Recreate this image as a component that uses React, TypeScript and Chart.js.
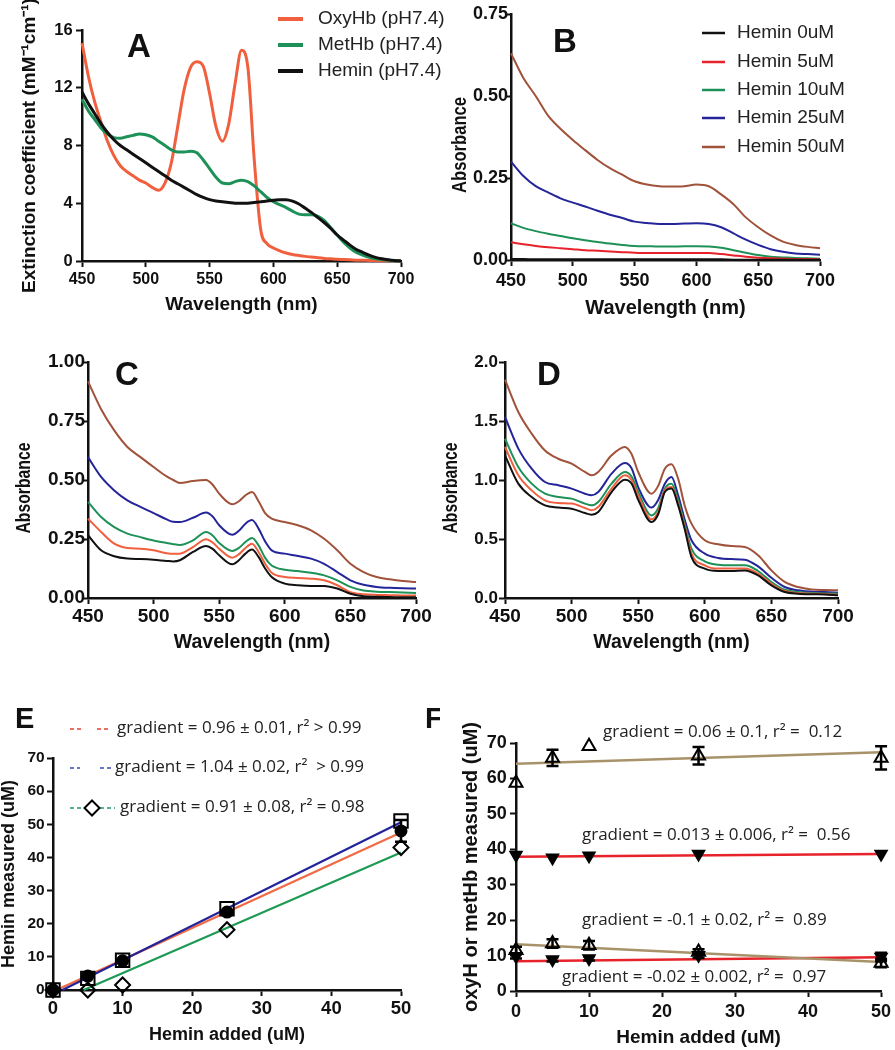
import React, { useEffect, useRef } from "react";
import { Chart, registerables } from "chart.js";
Chart.register(...registerables);

const SANS = '"Liberation Sans", Arial, sans-serif';
const ANNOT = '"Open Sans", "Liberation Sans", sans-serif';
const INK = "#111111";

// ---------- colours ----------
const C_ORANGE = "#F0603F";
const C_GREEN = "#1E9158";
const C_BLACK = "#111111";
const C_RED = "#E8222A";
const C_BLUE = "#25259A";
const C_BROWN = "#A0523A";
const C_TAN = "#A8926A";

// ---------- Panel A ----------
const waveA = [450, 455, 460, 465, 470, 475, 480, 485, 490, 495, 500, 505, 510, 515, 520, 525, 530, 535, 540, 545, 550, 555, 560, 565, 570, 575, 580, 585, 590, 595, 600, 605, 610, 615, 620, 625, 630, 635, 640, 645, 650, 655, 660, 665, 670, 675, 680, 685, 690, 695, 700];
const oxyHbA = [15.1, 12.8, 11.0, 9.6, 8.3, 7.3, 6.6, 6.2, 5.9, 5.6, 5.4, 5.1, 4.9, 5.4, 6.8, 9.3, 11.85, 13.4, 13.8, 13.5, 11.6, 9.3, 8.3, 9.5, 12.3, 14.6, 13.4, 7.0, 2.2, 1.2, 0.9, 0.7, 0.55, 0.45, 0.38, 0.32, 0.27, 0.22, 0.18, 0.15, 0.12, 0.1, 0.08, 0.06, 0.05, 0.04, 0.03, 0.02, 0.01, 0.01, 0];
const metHbA = [11.2, 10.4, 9.8, 9.2, 8.8, 8.55, 8.5, 8.6, 8.7, 8.8, 8.75, 8.6, 8.3, 8.0, 7.7, 7.55, 7.55, 7.6, 7.5, 7.0, 6.4, 5.8, 5.4, 5.35, 5.5, 5.6, 5.5, 5.2, 4.8, 4.4, 4.1, 3.9, 3.7, 3.45, 3.25, 3.2, 3.2, 3.1, 2.8, 2.3, 1.8, 1.3, 0.9, 0.6, 0.4, 0.25, 0.15, 0.1, 0.05, 0.02, 0];
const heminA = [11.7, 10.9, 10.2, 9.5, 8.9, 8.4, 8.0, 7.7, 7.4, 7.1, 6.8, 6.5, 6.2, 5.9, 5.6, 5.35, 5.1, 4.85, 4.6, 4.4, 4.25, 4.15, 4.1, 4.05, 4.0, 4.0, 4.0, 4.05, 4.1, 4.15, 4.2, 4.25, 4.25, 4.15, 3.95, 3.65, 3.35, 3.0, 2.65, 2.25, 1.8, 1.45, 1.1, 0.8, 0.6, 0.4, 0.25, 0.15, 0.08, 0.03, 0];
const legendA = ["OxyHb (pH7.4)", "MetHb (pH7.4)", "Hemin (pH7.4)"];

// ---------- Panel B ----------
const waveB = [450, 460, 470, 480, 490, 500, 510, 520, 530, 540, 550, 560, 570, 580, 590, 600, 610, 620, 630, 640, 650, 660, 670, 680, 690, 700];
const hemin0B = [0.003, 0.003, 0.002, 0.002, 0.002, 0.002, 0.002, 0.002, 0.002, 0.002, 0.002, 0.002, 0.002, 0.002, 0.002, 0.002, 0.002, 0.002, 0.001, 0.001, 0.001, 0.001, 0.001, 0.001, 0.001, 0.001];
const hemin5B = [0.054, 0.048, 0.043, 0.039, 0.036, 0.033, 0.03, 0.028, 0.026, 0.024, 0.022, 0.021, 0.021, 0.021, 0.021, 0.021, 0.021, 0.018, 0.014, 0.01, 0.007, 0.005, 0.004, 0.003, 0.003, 0.002];
const hemin10B = [0.112, 0.098, 0.088, 0.08, 0.073, 0.066, 0.06, 0.055, 0.05, 0.046, 0.043, 0.042, 0.041, 0.041, 0.042, 0.042, 0.041, 0.037, 0.03, 0.022, 0.015, 0.01, 0.008, 0.006, 0.005, 0.004];
const hemin25B = [0.30, 0.256, 0.225, 0.206, 0.188, 0.175, 0.163, 0.15, 0.138, 0.128, 0.117, 0.113, 0.11, 0.11, 0.111, 0.112, 0.11, 0.10, 0.081, 0.062, 0.046, 0.033, 0.025, 0.02, 0.018, 0.016];
const hemin50B = [0.63, 0.555, 0.50, 0.44, 0.40, 0.366, 0.335, 0.305, 0.28, 0.26, 0.24, 0.23, 0.225, 0.224, 0.225, 0.23, 0.225, 0.20, 0.17, 0.13, 0.10, 0.075, 0.056, 0.046, 0.04, 0.036];
const legendB = ["Hemin 0uM", "Hemin 5uM", "Hemin 10uM", "Hemin 25uM", "Hemin 50uM"];

// ---------- Panels C & D ----------
const waveCD = [450, 460, 470, 480, 490, 500, 510, 515, 520, 530, 540, 545, 550, 560, 565, 570, 575, 580, 585, 590, 600, 610, 620, 630, 640, 650, 660, 670, 680, 690, 700];
const c0 = [0.266, 0.202, 0.177, 0.167, 0.165, 0.162, 0.157, 0.155, 0.16, 0.195, 0.22, 0.208, 0.181, 0.143, 0.16, 0.188, 0.205, 0.174, 0.125, 0.089, 0.061, 0.054, 0.051, 0.051, 0.04, 0.018, 0.007, 0.005, 0.004, 0.003, 0.003];
const c5 = [0.336, 0.28, 0.23, 0.212, 0.209, 0.202, 0.19, 0.187, 0.188, 0.216, 0.249, 0.235, 0.209, 0.171, 0.185, 0.212, 0.23, 0.195, 0.145, 0.107, 0.089, 0.085, 0.082, 0.075, 0.054, 0.025, 0.016, 0.013, 0.012, 0.011, 0.011];
const c10 = [0.407, 0.343, 0.30, 0.273, 0.258, 0.244, 0.233, 0.228, 0.225, 0.244, 0.28, 0.265, 0.233, 0.199, 0.212, 0.237, 0.254, 0.223, 0.17, 0.138, 0.12, 0.114, 0.107, 0.096, 0.075, 0.047, 0.032, 0.027, 0.025, 0.023, 0.021];
const c25 = [0.597, 0.513, 0.456, 0.414, 0.386, 0.36, 0.333, 0.323, 0.322, 0.34, 0.362, 0.345, 0.308, 0.268, 0.285, 0.315, 0.33, 0.294, 0.24, 0.202, 0.188, 0.178, 0.167, 0.145, 0.11, 0.075, 0.056, 0.047, 0.043, 0.041, 0.04];
const c50 = [0.918, 0.80, 0.71, 0.64, 0.597, 0.555, 0.515, 0.50, 0.487, 0.496, 0.50, 0.48, 0.442, 0.397, 0.41, 0.435, 0.449, 0.41, 0.36, 0.336, 0.322, 0.308, 0.287, 0.251, 0.202, 0.145, 0.11, 0.089, 0.079, 0.072, 0.068];
const d0 = [1.209, 0.969, 0.856, 0.785, 0.766, 0.757, 0.72, 0.706, 0.729, 0.898, 1.003, 0.97, 0.833, 0.644, 0.71, 0.898, 0.927, 0.785, 0.58, 0.347, 0.249, 0.229, 0.229, 0.234, 0.192, 0.107, 0.051, 0.037, 0.032, 0.03, 0.023];
const d5 = [1.28, 1.04, 0.912, 0.828, 0.805, 0.80, 0.763, 0.743, 0.771, 0.927, 1.04, 1.0, 0.87, 0.667, 0.73, 0.912, 0.94, 0.80, 0.6, 0.376, 0.277, 0.249, 0.249, 0.249, 0.206, 0.121, 0.059, 0.042, 0.036, 0.034, 0.028];
const d10 = [1.35, 1.11, 0.969, 0.884, 0.856, 0.842, 0.80, 0.785, 0.814, 0.969, 1.068, 1.03, 0.898, 0.70, 0.76, 0.927, 0.969, 0.828, 0.62, 0.418, 0.311, 0.282, 0.277, 0.277, 0.229, 0.136, 0.071, 0.051, 0.042, 0.038, 0.037];
const d25 = [1.534, 1.266, 1.096, 0.983, 0.955, 0.927, 0.884, 0.87, 0.898, 1.054, 1.144, 1.10, 0.94, 0.766, 0.83, 0.969, 1.025, 0.87, 0.66, 0.489, 0.376, 0.339, 0.33, 0.325, 0.268, 0.172, 0.093, 0.065, 0.054, 0.05, 0.045];
const d50 = [1.85, 1.576, 1.393, 1.25, 1.18, 1.138, 1.068, 1.04, 1.068, 1.209, 1.28, 1.22, 1.068, 0.884, 0.95, 1.096, 1.133, 1.01, 0.78, 0.63, 0.489, 0.455, 0.44, 0.432, 0.362, 0.234, 0.136, 0.093, 0.073, 0.068, 0.065];

// ---------- Panel E ----------
const addedE = [0, 5, 10, 25, 50];
const circlesE = [0, 4.2, 8.8, 23.5, 48];
const circlesErrE = [0, 0, 0, 0, 3.3];
const squaresE = [0, 3.5, 9, 24.5, 51];
const diamondsE = [0, 0, 1.5, 18.2, 43];
const fitOrangeE = [{ x: 0.5, y: 0 }, { x: 50, y: 47.5 }];
const fitBlueE = [{ x: 1.35, y: 0 }, { x: 50, y: 50.6 }];
const fitGreenE = [{ x: 4.4, y: 0 }, { x: 50, y: 41.5 }];
const labelsE = [
  "gradient = 0.96 \u00B1 0.01, r\u00B2 > 0.99",
  "gradient = 1.04 \u00B1 0.02, r\u00B2  > 0.99",
  "gradient = 0.91 \u00B1 0.08, r\u00B2 = 0.98",
];

// ---------- Panel F ----------
const addedF = [0, 5, 10, 25, 50];
const oxyHighF = [58.7, 65.8, 69.1, 66.4, 65.8];
const oxyHighErrF = [0, 2.3, 0, 2.5, 3.3];
const metHighF = [38.4, 37.6, 38.2, 38.7, 38.7];
const oxyLowF = [11.5, 13.4, 12.9, 11.0, 7.9];
const oxyLowErrF = [1.0, 1.2, 1.2, 0.8, 1.2];
const metLowF = [9.8, 8.9, 9.2, 10.1, 9.6];
const metLowErrF = [0.6, 0.6, 0.6, 0.8, 1.2];
const fitTanHighF = [{ x: 0, y: 64.15 }, { x: 50, y: 67.4 }];
const fitRedHighF = [{ x: 0, y: 37.9 }, { x: 50, y: 38.7 }];
const fitTanLowF = [{ x: 0, y: 13.2 }, { x: 50, y: 8.2 }];
const fitRedLowF = [{ x: 0, y: 8.4 }, { x: 50, y: 9.5 }];
const labelsF = [
  "gradient = 0.06 \u00B1 0.1, r\u00B2 =  0.12",
  "gradient = 0.013 \u00B1 0.006, r\u00B2 =  0.56",
  "gradient = -0.1 \u00B1 0.02, r\u00B2 =  0.89",
  "gradient = -0.02 \u00B1 0.002, r\u00B2 =  0.97",
];

// ---------- helpers ----------
function xy(xs: number[], ys: number[]) {
  return xs.map((x, i) => ({ x, y: ys[i] }));
}

function curve(xs: number[], ys: number[], color: string, width: number) {
  return {
    type: "line",
    data: xy(xs, ys),
    borderColor: color,
    backgroundColor: color,
    borderWidth: width,
    pointRadius: 0,
    cubicInterpolationMode: "monotone",
    fill: false,
    clip: false,
  };
}

function fitLine(pts: { x: number; y: number }[], color: string, width: number) {
  return {
    type: "line",
    data: pts,
    borderColor: color,
    backgroundColor: color,
    borderWidth: width,
    pointRadius: 0,
    tension: 0,
    fill: false,
    clip: false,
  };
}

function markers(xs: number[], ys: number[], style: string, radius: number, filled: boolean, rotation: number, errors?: number[]) {
  return {
    type: "line",
    data: xy(xs, ys),
    showLine: false,
    pointStyle: style,
    pointRadius: radius,
    pointRotation: rotation,
    pointBorderWidth: 2,
    pointBorderColor: "#000",
    pointBackgroundColor: filled ? "#000" : "rgba(0,0,0,0)",
    borderColor: "#000",
    backgroundColor: filled ? "#000" : "rgba(0,0,0,0)",
    clip: false,
    errorBars: errors,
  };
}

type AxisOpt = {
  isY: boolean;
  min: number;
  max: number;
  step: number;
  title: string;
  showTitle?: boolean;
  titleSize: number;
  titlePad: number;
  size: number;
  tickSize: number;
  tickPad: number;
  dec?: number;
};

function axis(o: AxisOpt) {
  return {
    type: "linear",
    position: o.isY ? "left" : "bottom",
    min: o.min,
    max: o.max,
    ticks: {
      stepSize: o.step,
      autoSkip: false,
      maxRotation: 0,
      minRotation: 0,
      padding: o.tickPad,
      color: INK,
      font: { family: SANS, size: o.tickSize, weight: "bold" },
      callback: (v: any) => (o.dec != null ? Number(v).toFixed(o.dec) : String(v)),
    },
    grid: { drawOnChartArea: false, drawTicks: true, tickLength: 6, tickWidth: 2, tickColor: INK },
    border: { display: true, color: INK, width: 2.5 },
    title: {
      display: o.showTitle !== false,
      text: o.title,
      color: INK,
      font: { family: SANS, size: o.titleSize, weight: "bold", lineHeight: 1 },
      padding: o.isY ? { top: o.titlePad, bottom: 0 } : { top: 0, bottom: o.titlePad },
    },
    afterFit: (s: any) => {
      if (o.isY) s.width = o.size;
      else s.height = o.size;
    },
  };
}

function baseOptions(padTop: number, padRight: number, x: any, y: any) {
  return {
    responsive: false,
    animation: false,
    devicePixelRatio: 1,
    events: [],
    layout: { padding: { left: 0, top: padTop, right: padRight, bottom: 0 } },
    plugins: { legend: { display: false }, tooltip: { enabled: false }, title: { display: false } },
    scales: { x, y },
  };
}

// draws in page coordinates by translating by the canvas offset
function extras(ox: number, oy: number, draw: (ctx: CanvasRenderingContext2D, chart: any) => void) {
  return {
    id: "extras",
    afterDraw(chart: any) {
      const ctx = chart.ctx as CanvasRenderingContext2D;
      ctx.save();
      ctx.translate(-ox, -oy);
      draw(ctx, chart);
      ctx.restore();
    },
  };
}

const errorBarPlugin = {
  id: "errorBars",
  afterDatasetsDraw(chart: any) {
    const ctx = chart.ctx as CanvasRenderingContext2D;
    const xs = chart.scales.x;
    const ys = chart.scales.y;
    chart.data.datasets.forEach((ds: any) => {
      if (!ds.errorBars) return;
      ctx.save();
      ctx.strokeStyle = "#000";
      ctx.lineWidth = 2.5;
      ds.data.forEach((p: any, j: number) => {
        const e = ds.errorBars[j];
        if (!e) return;
        const px = xs.getPixelForValue(p.x);
        const y1 = ys.getPixelForValue(p.y + e);
        const y2 = ys.getPixelForValue(p.y - e);
        ctx.beginPath();
        ctx.moveTo(px, y1);
        ctx.lineTo(px, y2);
        ctx.moveTo(px - 6, y1);
        ctx.lineTo(px + 6, y1);
        ctx.moveTo(px - 6, y2);
        ctx.lineTo(px + 6, y2);
        ctx.stroke();
      });
      ctx.restore();
    });
  },
};

function letter(ctx: CanvasRenderingContext2D, text: string, x: number, y: number, size: number) {
  ctx.fillStyle = INK;
  ctx.font = `bold ${size}px ${SANS}`;
  ctx.textAlign = "left";
  ctx.textBaseline = "alphabetic";
  ctx.fillText(text, x, y);
}

// condensed, rotated y-axis title ("Absorbance")
function narrowYTitle(ctx: CanvasRenderingContext2D, text: string, cx: number, cy: number, size: number, length: number) {
  ctx.save();
  ctx.font = `bold ${size}px ${SANS}`;
  const w = ctx.measureText(text).width;
  ctx.translate(cx, cy);
  ctx.rotate(-Math.PI / 2);
  ctx.scale(length / w, 1);
  ctx.fillStyle = INK;
  ctx.textAlign = "center";
  ctx.textBaseline = "middle";
  ctx.fillText(text, 0, 0);
  ctx.restore();
}

function legend(ctx: CanvasRenderingContext2D, items: string[], colors: string[], x1: number, x2: number, tx: number, ys: number[], lw: number) {
  items.forEach((t, i) => {
    ctx.strokeStyle = colors[i];
    ctx.lineWidth = lw;
    ctx.beginPath();
    ctx.moveTo(x1, ys[i]);
    ctx.lineTo(x2, ys[i]);
    ctx.stroke();
    ctx.fillStyle = "#222";
    ctx.font = `19px ${SANS}`;
    ctx.textAlign = "left";
    ctx.textBaseline = "middle";
    ctx.fillText(t, tx, ys[i]);
  });
}

function annot(ctx: CanvasRenderingContext2D, text: string, x: number, y: number) {
  ctx.fillStyle = "#222";
  ctx.font = `17px ${ANNOT}`;
  ctx.textAlign = "left";
  ctx.textBaseline = "middle";
  ctx.fillText(text, x, y);
}

function dashes(ctx: CanvasRenderingContext2D, color: string, segs: number[][], y: number) {
  ctx.save();
  ctx.strokeStyle = color;
  ctx.lineWidth = 1.5;
  ctx.setLineDash([4, 3]);
  segs.forEach(([a, b]) => {
    ctx.beginPath();
    ctx.moveTo(a, y);
    ctx.lineTo(b, y);
    ctx.stroke();
  });
  ctx.restore();
}

// ---------- chart configs ----------
const wl = "Wavelength (nm)";

function configA() {
  const x = axis({ isY: false, min: 450, max: 700, step: 50, title: wl, titleSize: 19, titlePad: 5.5, size: 59, tickSize: 16, tickPad: 3.4 });
  const y = axis({ isY: true, min: 0, max: 16, step: 4, title: "Extinction coefficient (mM\u207B\u00B9cm\u207B\u00B9)", titleSize: 19, titlePad: 20.5, size: 82, tickSize: 16.5, tickPad: 3.3 });
  return {
    type: "line",
    data: {
      datasets: [
        curve(waveA, heminA, C_BLACK, 3),
        curve(waveA, metHbA, C_GREEN, 3),
        curve(waveA, oxyHbA, C_ORANGE, 3),
      ],
    },
    options: baseOptions(30, 49, x, y),
    plugins: [
      extras(0, 0, (ctx) => {
        letter(ctx, "A", 127, 57, 33);
        legend(ctx, legendA, [C_ORANGE, C_GREEN, C_BLACK], 278, 303, 318, [19, 45, 71], 4);
      }),
    ],
  };
}

function configB() {
  const x = axis({ isY: false, min: 450, max: 700, step: 50, title: wl, titleSize: 20, titlePad: 2, size: 60, tickSize: 18, tickPad: 4.2 });
  const y = axis({ isY: true, min: 0, max: 0.75, step: 0.25, title: "Absorbance", showTitle: false, titleSize: 20, titlePad: 10, size: 71, tickSize: 18, tickPad: -3, dec: 2 });
  return {
    type: "line",
    data: {
      datasets: [
        curve(waveB, hemin0B, C_BLACK, 2),
        curve(waveB, hemin5B, C_RED, 2),
        curve(waveB, hemin10B, C_GREEN, 2),
        curve(waveB, hemin25B, C_BLUE, 2),
        curve(waveB, hemin50B, C_BROWN, 2),
      ],
    },
    options: baseOptions(14, 75, x, y),
    plugins: [
      extras(440, 0, (ctx) => {
        letter(ctx, "B", 553, 52, 33);
        narrowYTitle(ctx, "Absorbance", 460, 145, 20, 96);
        legend(ctx, legendB, [C_BLACK, C_RED, C_GREEN, C_BLUE, C_BROWN], 702, 725, 737, [33, 62, 90, 118, 147], 2.5);
      }),
    ],
  };
}

function configC() {
  const x = axis({ isY: false, min: 450, max: 700, step: 50, title: wl, titleSize: 19.5, titlePad: 7.25, size: 62, tickSize: 19, tickPad: 1.3 });
  const y = axis({ isY: true, min: 0, max: 1, step: 0.25, title: "Absorbance", showTitle: false, titleSize: 20, titlePad: 14, size: 88, tickSize: 19, tickPad: -3, dec: 2 });
  return {
    type: "line",
    data: {
      datasets: [
        curve(waveCD, c0, C_BLACK, 2),
        curve(waveCD, c5, C_ORANGE, 2),
        curve(waveCD, c10, C_GREEN, 2),
        curve(waveCD, c25, C_BLUE, 2),
        curve(waveCD, c50, C_BROWN, 2),
      ],
    },
    options: baseOptions(32, 29, x, y),
    plugins: [
      extras(0, 330, (ctx) => {
        letter(ctx, "C", 115, 385, 33);
        narrowYTitle(ctx, "Absorbance", 24, 488, 20, 91);
      }),
    ],
  };
}

function configD() {
  const x = axis({ isY: false, min: 450, max: 700, step: 50, title: wl, titleSize: 19.5, titlePad: 7.25, size: 62, tickSize: 19, tickPad: 1.3 });
  const y = axis({ isY: true, min: 0, max: 2, step: 0.5, title: "Absorbance", showTitle: false, titleSize: 20, titlePad: 5, size: 69, tickSize: 17, tickPad: 1, dec: 1 });
  return {
    type: "line",
    data: {
      datasets: [
        curve(waveCD, d0, C_BLACK, 2),
        curve(waveCD, d5, C_ORANGE, 2),
        curve(waveCD, d10, C_GREEN, 2),
        curve(waveCD, d25, C_BLUE, 2),
        curve(waveCD, d50, C_BROWN, 2),
      ],
    },
    options: baseOptions(32, 57, x, y),
    plugins: [
      extras(436, 330, (ctx) => {
        letter(ctx, "D", 537, 385, 33);
        narrowYTitle(ctx, "Absorbance", 451, 488, 20, 91);
      }),
    ],
  };
}

function configE() {
  const x = axis({ isY: false, min: 0, max: 50, step: 10, title: "Hemin added (uM)", titleSize: 18, titlePad: 6, size: 60, tickSize: 18.5, tickPad: 1.9 });
  const y = axis({ isY: true, min: 0, max: 70, step: 10, title: "Hemin measured (uM)", titleSize: 18, titlePad: 0, size: 53, tickSize: 15.5, tickPad: 2.3 });
  return {
    type: "line",
    data: {
      datasets: [
        markers(addedE, squaresE, "rect", 9.5, false, 0),
        markers(addedE, diamondsE, "rectRot", 7.5, false, 0),
        markers(addedE, circlesE, "circle", 5.5, true, 0, circlesErrE),
        fitLine(fitBlueE, "#23239A", 2.2),
        fitLine(fitOrangeE, "#F06A45", 2.2),
        fitLine(fitGreenE, "#1E9A55", 2.2),
      ],
    },
    options: baseOptions(68, 39, x, y),
    plugins: [
      errorBarPlugin,
      extras(0, 690, (ctx) => {
        letter(ctx, "E", 15, 728, 29);
        letter(ctx, "F", 425, 728, 29);
        dashes(ctx, "#E8402E", [[70, 82], [97, 108]], 729);
        dashes(ctx, "#3550B5", [[70, 80], [100, 111]], 768);
        dashes(ctx, "#1E9A70", [[70, 84], [100, 115]], 808);
        ctx.save();
        ctx.strokeStyle = "#000";
        ctx.lineWidth = 2;
        ctx.beginPath();
        ctx.moveTo(92, 800.5);
        ctx.lineTo(99.5, 808);
        ctx.lineTo(92, 815.5);
        ctx.lineTo(84.5, 808);
        ctx.closePath();
        ctx.stroke();
        ctx.restore();
        annot(ctx, labelsE[0], 117, 728);
        annot(ctx, labelsE[1], 115, 767);
        annot(ctx, labelsE[2], 120, 807);
      }),
    ],
  };
}

function configF() {
  const x = axis({ isY: false, min: 0, max: 50, step: 10, title: "Hemin added (uM)", titleSize: 19, titlePad: 2.5, size: 59, tickSize: 18, tickPad: 3.9 });
  const y = axis({ isY: true, min: 0, max: 70, step: 10, title: "oxyH or metHb measured (uM)", titleSize: 20, titlePad: 21, size: 76, tickSize: 18, tickPad: 3.3 });
  return {
    type: "line",
    data: {
      datasets: [
        markers(addedF, oxyHighF, "triangle", 7.5, false, 0, oxyHighErrF),
        markers(addedF, metHighF, "triangle", 6.5, true, 180),
        markers(addedF, oxyLowF, "triangle", 7.5, false, 0, oxyLowErrF),
        markers(addedF, metLowF, "triangle", 6.5, true, 180, metLowErrF),
        fitLine(fitTanHighF, C_TAN, 2.5),
        fitLine(fitRedHighF, C_RED, 2.5),
        fitLine(fitTanLowF, C_TAN, 2.5),
        fitLine(fitRedLowF, C_RED, 2.5),
      ],
    },
    options: baseOptions(53, 10, x, y),
    plugins: [
      errorBarPlugin,
      extras(440, 690, (ctx) => {
        annot(ctx, labelsF[0], 603, 732);
        annot(ctx, labelsF[1], 582, 835);
        annot(ctx, labelsF[2], 582, 920);
        annot(ctx, labelsF[3], 562, 977);
      }),
    ],
  };
}

// ---------- components ----------
type PanelProps = { left: number; top: number; width: number; height: number; build: () => any };

function Panel({ left, top, width, height, build }: PanelProps) {
  const ref = useRef<HTMLCanvasElement>(null);
  useEffect(() => {
    const chart = new Chart(ref.current as HTMLCanvasElement, build());
    return () => chart.destroy();
  }, []);
  return (
    <canvas
      ref={ref}
      width={width}
      height={height}
      style={{ position: "absolute", left, top, width, height }}
    />
  );
}

export default function App() {
  return (
    <div
      style={{
        position: "absolute",
        left: 0,
        top: 0,
        width: 895,
        height: 1050,
        background: "#ffffff",
        overflow: "hidden",
      }}
    >
      <Panel left={0} top={0} width={450} height={320} build={configA} />
      <Panel left={440} top={0} width={455} height={320} build={configB} />
      <Panel left={0} top={330} width={445} height={330} build={configC} />
      <Panel left={436} top={330} width={459} height={330} build={configD} />
      <Panel left={0} top={690} width={440} height={360} build={configE} />
      <Panel left={440} top={690} width={455} height={360} build={configF} />
    </div>
  );
}
